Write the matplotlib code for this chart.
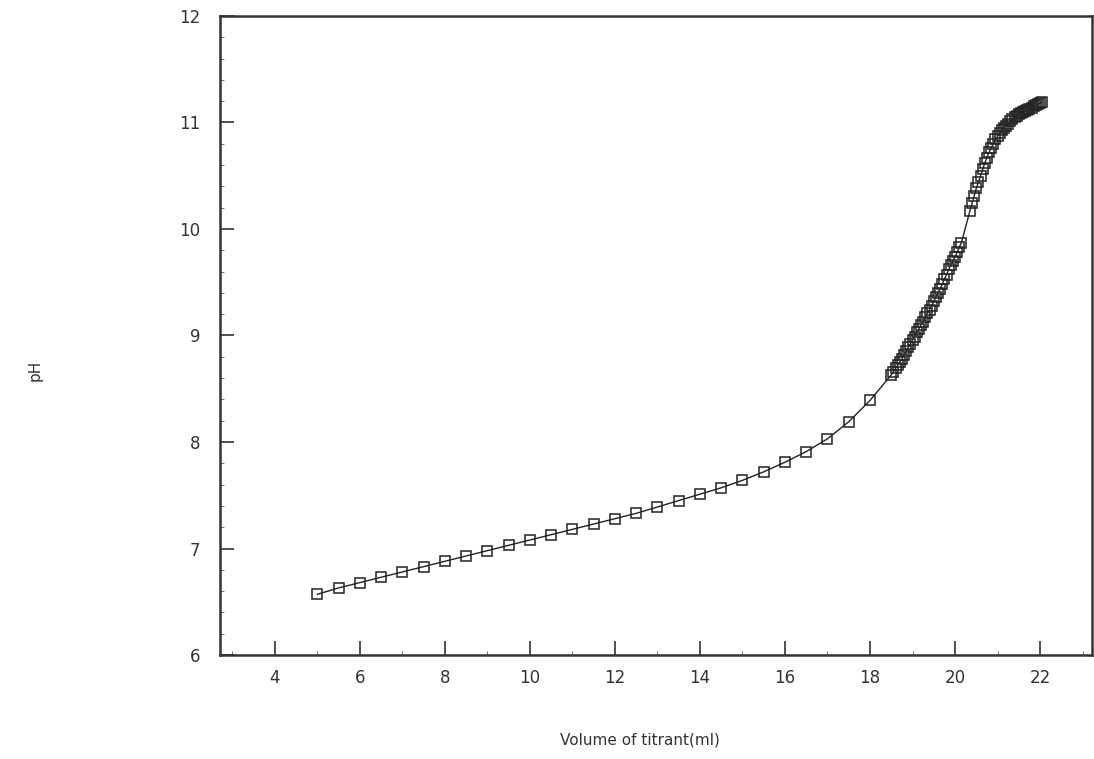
import numpy as np
import matplotlib
matplotlib.use('Agg')
import matplotlib.pyplot as plt
from matplotlib import ticker

# volume of titrant (ml) and measured pH
vol_low = [5.0, 5.5, 6.0, 6.5, 7.0, 7.5, 8.0, 8.5, 9.0, 9.5, 10.0, 10.5, 11.0, 11.5,
           12.0, 12.5, 13.0, 13.5, 14.0, 14.5, 15.0, 15.5, 16.0, 16.5, 17.0, 17.5, 18.0]
ph_low = [6.57, 6.63, 6.68, 6.73, 6.78, 6.83, 6.88, 6.93, 6.98, 7.03, 7.08, 7.13, 7.18, 7.23,
          7.28, 7.33, 7.39, 7.45, 7.51, 7.57, 7.64, 7.72, 7.81, 7.91, 8.03, 8.19, 8.39]

vol_mid = [18.50, 18.55, 18.60, 18.65, 18.70, 18.75, 18.80, 18.85, 18.90, 18.95,
           19.00, 19.05, 19.10, 19.15, 19.20, 19.25, 19.30, 19.35, 19.40, 19.45,
           19.50, 19.55, 19.60, 19.65, 19.70, 19.75, 19.80, 19.85, 19.90, 19.95,
           20.00, 20.05, 20.10, 20.15]
ph_mid = [8.63, 8.66, 8.69, 8.72, 8.75, 8.78, 8.82, 8.85, 8.89, 8.92,
          8.96, 8.99, 9.03, 9.06, 9.10, 9.13, 9.17, 9.21, 9.24, 9.28,
          9.32, 9.36, 9.40, 9.44, 9.48, 9.53, 9.57, 9.62, 9.66, 9.70,
          9.74, 9.78, 9.83, 9.87]

vol_high = [20.35, 20.40, 20.45, 20.50, 20.55, 20.60, 20.65, 20.70, 20.75, 20.80,
            20.85, 20.90, 20.95, 21.00, 21.05, 21.10, 21.15, 21.20, 21.25, 21.30,
            21.35, 21.40, 21.45, 21.50, 21.55, 21.60, 21.65, 21.70, 21.75, 21.80,
            21.85, 21.90, 21.95, 22.00, 22.05]
ph_high = [10.17, 10.24, 10.31, 10.38, 10.44, 10.50, 10.56, 10.62, 10.67, 10.72,
           10.76, 10.80, 10.84, 10.87, 10.90, 10.93, 10.95, 10.97, 10.99, 11.01,
           11.03, 11.05, 11.06, 11.08, 11.09, 11.10, 11.11, 11.12, 11.13, 11.14,
           11.15, 11.16, 11.17, 11.18, 11.19]

vol = np.array(vol_low + vol_mid + vol_high)
ph = np.array(ph_low + ph_mid + ph_high)

xticks = [4, 6, 8, 10, 12, 14, 16, 18, 20, 22]
yticks = [6, 7, 8, 9, 10, 11, 12]

fig = plt.figure(figsize=(10.94, 7.59), dpi=100)
ax = fig.add_axes([0.2011, 0.137, 0.797, 0.842])

ax.plot(vol, ph, color='#222222', lw=1.0, marker='s', markersize=7.5,
        markerfacecolor='none', markeredgecolor='#222222', markeredgewidth=1.1)

ax.set_xlim(2.71, 23.22)
ax.set_ylim(6, 12)
ax.set_xticks(xticks)
ax.set_yticks(yticks)
ax.xaxis.set_minor_locator(ticker.MultipleLocator(1))
ax.yaxis.set_minor_locator(ticker.MultipleLocator(0.2))
ax.tick_params(which='major', direction='in', length=10, width=1.2, colors='#333333',
               labelsize=12, pad=10)
ax.tick_params(which='minor', direction='in', length=3, width=0.7, colors='#777777')
ax.tick_params(axis='y', which='major', pad=14)
for lab in ax.get_xticklabels() + ax.get_yticklabels():
    lab.set_color('#333333')
for s in ax.spines.values():
    s.set_linewidth(1.8)
    s.set_color('#333333')

fig.text(0.585, 0.025, 'Volume of titrant(ml)', fontsize=11, color='#333333',
         ha='center', va='center')
fig.text(0.032, 0.512, 'pH', fontsize=11, color='#333333', rotation=90,
         ha='center', va='center')

plt.savefig('out.png', dpi=100)
